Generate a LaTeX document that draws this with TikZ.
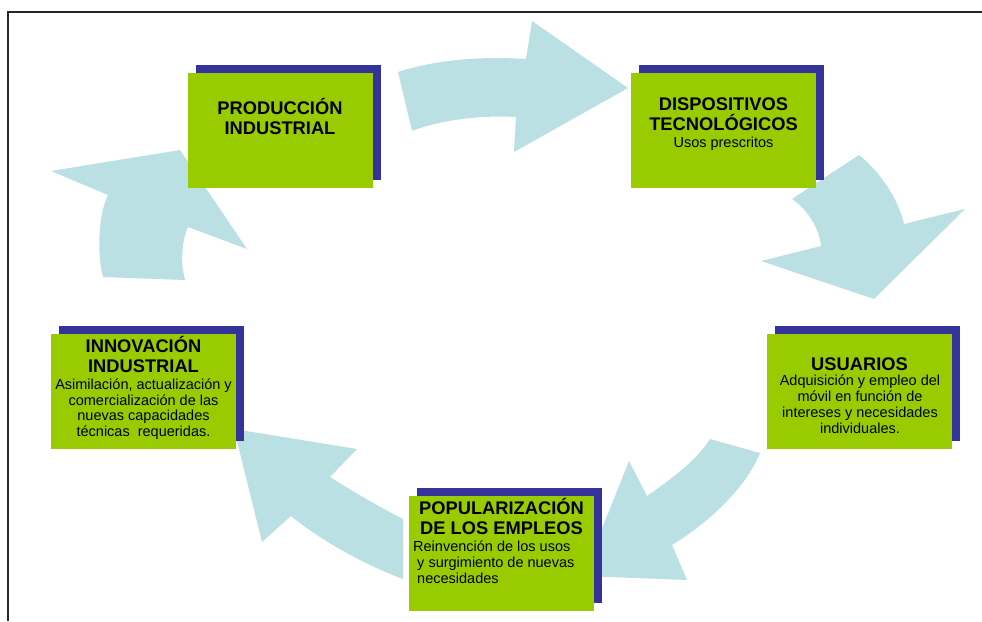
\documentclass[tikz,border=0pt]{standalone}
\usepackage{fontspec}
\setmainfont{Liberation Sans}
\usetikzlibrary{shadows}
\definecolor{boxgreen}{HTML}{99CC00}
\definecolor{boxblue}{HTML}{333399}
\definecolor{arrowblue}{HTML}{BBE0E3}
\begin{document}
\begin{tikzpicture}[x=1pt,y=-1pt]
	\tikzstyle{green box}=[rectangle,fill=boxgreen,inner sep=0,minimum width=185pt,minimum height=115pt,
		general shadow={fill=boxblue,shadow xshift=8pt,shadow yshift=8pt}]
	\tikzstyle{box title}=[inner sep=0,align=center,anchor=base,font=\fontsize{18.3}{20}\selectfont\bfseries]
	\tikzstyle{box text}=[inner sep=0,align=center,anchor=base,font=\fontsize{14.5}{15.8}\selectfont]
	\tikzstyle{cycle arrow}=[fill=arrowblue,draw=none]
	\useasboundingbox (0,0) rectangle (982,621);
	% frame
	\draw[line width=1.5pt,black!85] (8,621) -- (8,12) -- (982,12);
	% curved arrows of the cycle
	\fill[cycle arrow] (398,72) .. controls (435,60) and (480,56) .. (526,59) -- (532,21) -- (628,88)
		-- (514,152) -- (516,117) .. controls (480,115) and (440,120) .. (412,131) -- cycle;
	\fill[cycle arrow] (859,155) .. controls (880,172) and (898,198) .. (904,224) -- (965,209) -- (874,299)
		-- (761,261) -- (821,246) .. controls (819,228) and (808,210) .. (792,199) -- cycle;
	\fill[cycle arrow] (710,439) .. controls (697,460) and (670,480) .. (647,496) -- (629,461) -- (583,576)
		-- (687,580) -- (672,545) .. controls (705,525) and (745,490) .. (760,453) -- cycle;
	\fill[cycle arrow] (403,519) .. controls (385,510) and (350,490) .. (330,477) -- (357,449) -- (234,429)
		-- (262,542) -- (291,516) .. controls (320,540) and (365,565) .. (403,579) -- cycle;
	\fill[cycle arrow] (103,277) .. controls (97,255) and (98,215) .. (108,195) -- (51,171) -- (180,150)
		-- (247,249) -- (188,227) .. controls (182,240) and (180,262) .. (185,280) -- cycle;
	% boxes
	\node[green box] (prod) at (280,130) {};
	\node[green box] (disp) at (723.5,130.5) {};
	\node[green box] (innov) at (143.5,391) {};
	\node[green box] (usu) at (859.5,391) {};
	\node[green box] (popu) at (501.5,553.5) {};
	% texts (base = last line)
	\node[box title] (prod title) at (280,134) {PRODUCCIÓN\\INDUSTRIAL};
	\node[box title] (disp title) at (723.5,130) {DISPOSITIVOS\\TECNOLÓGICOS};
	\node[box text] (disp text) at (723.5,147.3) {Usos prescritos};
	\node[box title] (innov title) at (143.5,372.7) {INNOVACIÓN\\INDUSTRIAL};
	\node[box text] (innov text) at (143.5,436.7) {Asimilación, actualización y\\comercialización de las\\nuevas capacidades\\técnicas\ \ requeridas.};
	\node[box title] (usu title) at (859.5,370) {USUARIOS};
	\node[box text] (usu text) at (860,433.3) {Adquisición y empleo del\\móvil en función de\\intereses y necesidades\\individuales.};
	\node[box title] (popu title) at (501.5,534) {POPULARIZACIÓN\\DE LOS EMPLEOS};
	\node[box text,align=left,anchor=base west] (popu text) at (413,583.3) {Reinvención de los usos\\\ y surgimiento de nuevas\\\ necesidades};
\end{tikzpicture}
\end{document}
